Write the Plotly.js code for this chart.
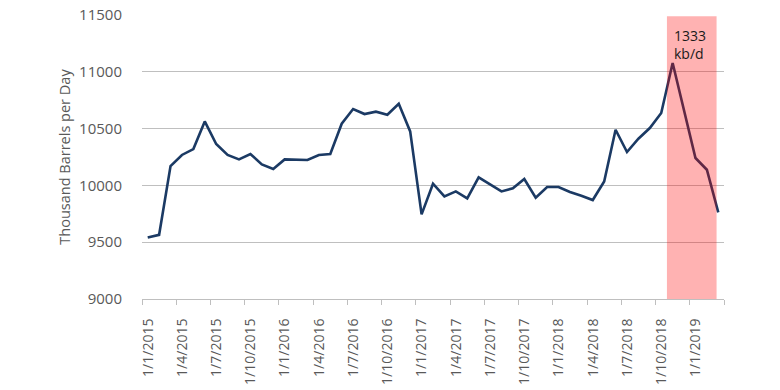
<!DOCTYPE html>
<html>
<head>
<meta charset="utf-8">
<script src="https://cdn.plot.ly/plotly-3.0.1.min.js"></script>
<style>html,body{margin:0;padding:0;background:#fff;}#chart{width:780px;height:390px;}</style>
</head>
<body>
<div id="chart"></div>
<script>
// Monthly crude production, Jan 2015 .. Mar 2019 (thousand barrels per day)
const months = [
  "2015-01","2015-02","2015-03","2015-04","2015-05","2015-06","2015-07","2015-08","2015-09","2015-10","2015-11","2015-12",
  "2016-01","2016-02","2016-03","2016-04","2016-05","2016-06","2016-07","2016-08","2016-09","2016-10","2016-11","2016-12",
  "2017-01","2017-02","2017-03","2017-04","2017-05","2017-06","2017-07","2017-08","2017-09","2017-10","2017-11","2017-12",
  "2018-01","2018-02","2018-03","2018-04","2018-05","2018-06","2018-07","2018-08","2018-09","2018-10","2018-11","2018-12",
  "2019-01","2019-02","2019-03"
];
const production = [
  9542, 9565, 10170, 10268, 10320, 10563, 10364, 10268, 10229, 10276, 10185, 10144,
  10229, 10224, 10224, 10268, 10276, 10543, 10672, 10628, 10649, 10622, 10719, 10475,
  9745, 10015, 9903, 9947, 9886, 10071, 10012, 9947, 9974, 10056, 9892, 9986,
  9986, 9942, 9909, 9871, 10035, 10490, 10294, 10411, 10505, 10637, 11077, 10652,
  10241, 10138, 9762
];
const tickLabels = [
  "1/1/2015","1/4/2015","1/7/2015","1/10/2015","1/1/2016","1/4/2016","1/7/2016","1/10/2016",
  "1/1/2017","1/4/2017","1/7/2017","1/10/2017","1/1/2018","1/4/2018","1/7/2018","1/10/2018","1/1/2019"
];
const annotationText = "1333<br>kb/d";

const idx = months.map((m, i) => i);
// tick marks at category boundaries every 3 months, plus closing tick
const tickvals = [];
const ticktext = [];
for (let k = 0; k <= tickLabels.length; k++) {
  tickvals.push(k * 3 - 0.5);
  ticktext.push(k < tickLabels.length ? tickLabels[k] : "");
}

const trace = {
  x: idx, y: production, type: "scatter", mode: "lines",
  line: {color: "#1b3a64", width: 2.6},
  hoverinfo: "skip"
};

const layout = {
  width: 780, height: 390,
  margin: {l: 142, r: 56, t: 15, b: 91},
  paper_bgcolor: "#fff", plot_bgcolor: "#fff",
  font: {family: "Open Sans, Noto Sans, sans-serif", color: "#595959", size: 14},
  showlegend: false,
  xaxis: {
    range: [-0.5, months.length - 0.5],
    tickmode: "array", tickvals: tickvals, ticktext: ticktext,
    tickangle: -90, ticks: "outside", ticklen: 5, tickcolor: "#bfbfbf",
    ticklabelshift: 6, ticklabelstandoff: 8,
    showline: true, linecolor: "#bfbfbf", linewidth: 1,
    showgrid: false, zeroline: false,
    tickfont: {size: 14, color: "#595959"}
  },
  yaxis: {
    range: [9000, 11500], dtick: 500, tick0: 9000, tickformat: "d",
    showgrid: true, gridcolor: "#bfbfbf", gridwidth: 1,
    zeroline: false, showline: false,
    ticks: "outside", ticklen: 16, tickcolor: "rgba(0,0,0,0)",
    tickfont: {size: 15, color: "#595959"},
    title: {text: "Thousand Barrels per Day", font: {size: 14.5, color: "#595959"}, standoff: 5}
  },
  shapes: [{
    type: "rect", xref: "x", yref: "y", layer: "above",
    x0: 45.5, x1: 49.85, y0: 9000, y1: 11490,
    fillcolor: "rgba(255,0,0,0.3)", line: {width: 0}
  }],
  annotations: [{
    x: 45.9, y: 11240, xref: "x", yref: "y",
    text: annotationText, showarrow: false,
    xanchor: "left", yanchor: "middle", align: "left",
    font: {size: 14, color: "#1a1a1a"}
  }]
};

Plotly.newPlot("chart", [trace], layout, {displayModeBar: false, staticPlot: true});
</script>
</body>
</html>
